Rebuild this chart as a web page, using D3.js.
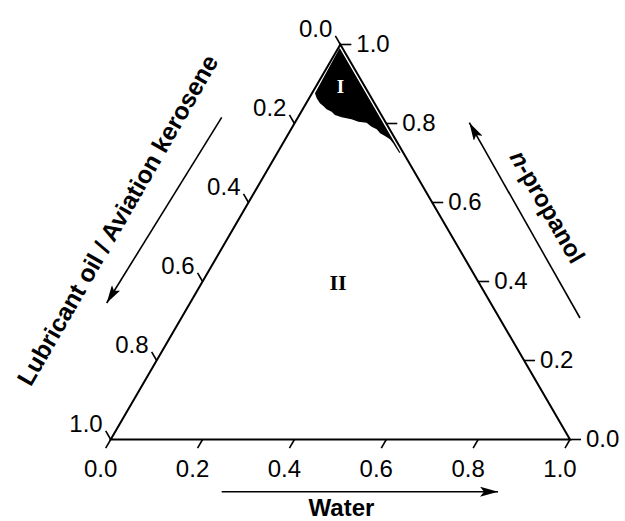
<!DOCTYPE html>
<html>
<head>
<meta charset="utf-8">
<script src="https://cdn.jsdelivr.net/npm/d3@7"></script>
<style>
  body { margin: 0; background: #fff; }
  text { font-family: "Liberation Sans", Arial, sans-serif; }
</style>
</head>
<body>
<div id="chart"></div>
<script>
const tickValues = [0, 0.2, 0.4, 0.6, 0.8, 1.0];
const tickLabels = ['0.0', '0.2', '0.4', '0.6', '0.8', '1.0'];

// region I boundary, as water / n-propanol mass fractions
const regionWater = [0.003, 0.0065, 0.0166, 0.030, 0.0407, 0.052, 0.066, 0.0775, 0.095, 0.119,
    0.137, 0.156, 0.172, 0.1866, 0.199, 0.213, 0.228, 0.240, 0.265, 0.268];
const regionPropanol = [0.991, 0.8765, 0.8638, 0.8511, 0.8443, 0.836, 0.830, 0.8215, 0.8157, 0.8106,
    0.8046, 0.802, 0.7919, 0.7853, 0.7752, 0.7684, 0.760, 0.750, 0.726, 0.726];

const width = 625;
const height = 521;

const svg = d3.select('#chart')
    .append('svg')
    .attr('width', width)
    .attr('height', height);

const x = d3.scaleLinear().domain([0, 1]).range([110.7, 570]);
const y = d3.scaleLinear().domain([0, 1]).range([439.5, 44.5]);
const pt = (w, p) => [x(w + p / 2), y(p)];

svg.append('defs').append('marker')
    .attr('id', 'head')
    .attr('viewBox', '0 0 18 10')
    .attr('refX', 18)
    .attr('refY', 5)
    .attr('markerWidth', 18)
    .attr('markerHeight', 10)
    .attr('markerUnits', 'userSpaceOnUse')
    .attr('orient', 'auto')
    .append('path')
    .attr('d', 'M0,0 L18,5 L0,10 L4,5 Z')
    .attr('fill', '#000');

// region I
const regionPts = regionWater.map((w, i) => pt(w, regionPropanol[i]));
svg.append('path')
    .attr('d', d3.line()(regionPts) + 'Z')
    .attr('fill', '#000');

// triangle
svg.append('path')
    .attr('d', d3.line()([pt(0, 0), pt(1, 0), pt(0, 1)]) + 'Z')
    .attr('fill', 'none')
    .attr('stroke', '#000')
    .attr('stroke-width', 2);

const tickLen = 10;
const c60 = Math.cos(Math.PI / 3), s60 = Math.sin(Math.PI / 3);

// bottom axis: water
tickValues.forEach((v, i) => {
    const [sx, sy] = pt(v, 0);
    svg.append('line')
        .attr('x1', sx).attr('y1', sy)
        .attr('x2', sx - tickLen * c60).attr('y2', sy + tickLen * s60)
        .attr('stroke', '#000').attr('stroke-width', 1.6);
    svg.append('text')
        .attr('x', sx - 10)
        .attr('y', sy + 37)
        .attr('text-anchor', 'middle')
        .style('font-size', '24px')
        .text(tickLabels[i]);
});

// right axis: n-propanol
tickValues.forEach((v, i) => {
    const [sx, sy] = pt(1 - v, v);
    svg.append('line')
        .attr('x1', sx).attr('y1', sy)
        .attr('x2', sx + 11).attr('y2', sy)
        .attr('stroke', '#000').attr('stroke-width', 1.6);
    svg.append('text')
        .attr('x', sx + 16)
        .attr('y', sy + 7)
        .attr('text-anchor', 'start')
        .style('font-size', '24px')
        .text(tickLabels[i]);
});

// left axis: lubricant oil / aviation kerosene
tickValues.forEach((v, i) => {
    const [sx, sy] = pt(0, 1 - v);
    const ex = sx - tickLen * c60, ey = sy - tickLen * s60;
    svg.append('line')
        .attr('x1', sx).attr('y1', sy)
        .attr('x2', ex).attr('y2', ey)
        .attr('stroke', '#000').attr('stroke-width', 1.6);
    svg.append('text')
        .attr('x', ex - 3)
        .attr('y', ey + 1.5)
        .attr('text-anchor', 'end')
        .style('font-size', '24px')
        .text(tickLabels[i]);
});

// direction arrows
const arrows = [
    [[221.7, 491.7], [498, 491.7]],
    [[221.7, 117.3], [106.7, 303]],
    [[580, 318], [469.3, 122.7]]
];
arrows.forEach(a => {
    svg.append('line')
        .attr('x1', a[0][0]).attr('y1', a[0][1])
        .attr('x2', a[1][0]).attr('y2', a[1][1])
        .attr('stroke', '#000').attr('stroke-width', 1.6)
        .attr('marker-end', 'url(#head)');
});

// axis titles
svg.append('text')
    .attr('x', 341.5)
    .attr('y', 516)
    .attr('text-anchor', 'middle')
    .style('font-size', '24px')
    .style('font-weight', 'bold')
    .text('Water');

svg.append('text')
    .attr('transform', 'translate(117.5,220) rotate(-60)')
    .attr('text-anchor', 'middle')
    .attr('dy', '0.35em')
    .style('font-size', '24.5px')
    .style('font-weight', 'bold')
    .text('Lubricant oil / Aviation kerosene');

const prop = svg.append('text')
    .attr('transform', 'translate(547.5,206.7) rotate(60)')
    .attr('text-anchor', 'middle')
    .attr('dy', '0.35em')
    .style('font-size', '24px')
    .style('font-weight', 'bold');
prop.append('tspan').style('font-style', 'italic').text('n');
prop.append('tspan').text('-propanol');

// region labels
svg.append('text')
    .attr('x', 340.5)
    .attr('y', 93)
    .attr('text-anchor', 'middle')
    .style('font-family', '"Liberation Serif", "Times New Roman", serif')
    .style('font-size', '19px')
    .style('font-weight', 'bold')
    .attr('fill', '#fff')
    .text('I');

svg.append('text')
    .attr('x', 338)
    .attr('y', 290)
    .attr('text-anchor', 'middle')
    .style('font-family', '"Liberation Serif", "Times New Roman", serif')
    .style('font-size', '22px')
    .style('font-weight', 'bold')
    .text('II');
</script>
</body>
</html>
